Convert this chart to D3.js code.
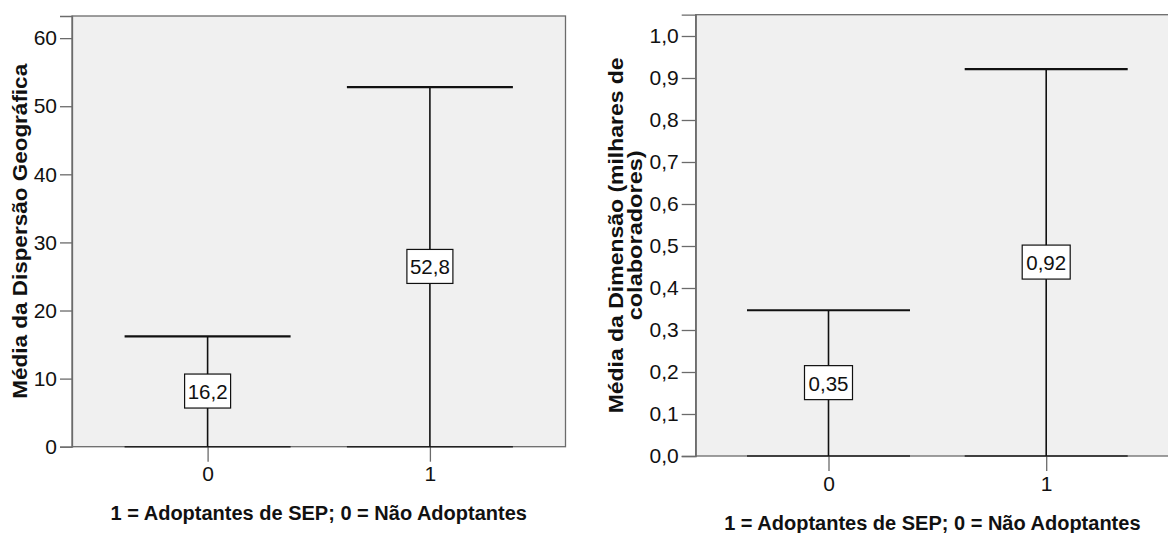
<!DOCTYPE html>
<html>
<head>
<meta charset="utf-8">
<style>
    body { margin: 0; background: #fff; }
    svg { display: block; font-family: Arial, 'Liberation Sans', sans-serif; }
</style>
</head>
<body>
<svg width="1168" height="533"></svg>

<script src="https://d3js.org/d3.v7.min.js"></script>
<script>
    // values
    const categories = ["0", "1"];
    const dispersaoMeans = [16.2, 52.8];
    const dimensaoMeans = [0.347, 0.921];
    const dispersaoTicks = [0, 10, 20, 30, 40, 50, 60];
    const dimensaoTicks = [0, 0.1, 0.2, 0.3, 0.4, 0.5, 0.6, 0.7, 0.8, 0.9, 1.0];
    const xTitle = "1 = Adoptantes de SEP; 0 = Não Adoptantes";

    let svg = d3.select("svg");
    let comma = s => s.replace(".", ",");

    function drawPanel(p) {
        let g = svg.append("g");
        let x = d3.scalePoint().domain(categories).range([p.left, p.right]).padding(0.61);
        let y = d3.scaleLinear().domain([0, p.ymax]).range([p.bottom, p.top]);

        // plot background + frame
        g.append("rect")
            .attr("x", p.left).attr("y", p.top)
            .attr("width", p.right - p.left).attr("height", p.bottom - p.top)
            .attr("fill", "#f0f0f0").attr("stroke", "#6b6b6b").attr("stroke-width", 1.3)

        // y axis
        let yAxis = g.append("g")
            .attr("transform", `translate(${p.left},0)`)
            .call(d3.axisLeft(y).tickValues(p.ticks).tickSize(p.tick).tickPadding(3).tickFormat(p.fmt))
        yAxis.select(".domain").attr("stroke", "#6b6b6b").attr("stroke-width", 1.3)
        yAxis.selectAll(".tick line").attr("stroke", "#6b6b6b").attr("stroke-width", 1.3)
        yAxis.selectAll("text").attr("font-size", "21px").attr("fill", "#111").attr("font-family", "Arial, 'Liberation Sans', sans-serif")

        // x axis
        let xAxis = g.append("g")
            .attr("transform", `translate(0,${p.bottom})`)
            .call(d3.axisBottom(x).tickSize(15).tickPadding(p.xpad))
        xAxis.select(".domain").remove()
        xAxis.selectAll(".tick line").attr("stroke", "#6b6b6b").attr("stroke-width", 1.3)
        xAxis.selectAll("text").attr("font-size", "21px").attr("fill", "#111").attr("font-family", "Arial, 'Liberation Sans', sans-serif")

        let capW = p.cap;
        let bars = g.append("g").selectAll("g")
            .data(categories.map((c, i) => ({ c: c, v: p.values[i] })))
            .join("g")

        // base at zero
        bars.append("line")
            .attr("x1", d => x(d.c) - capW / 2).attr("x2", d => x(d.c) + capW / 2)
            .attr("y1", y(0)).attr("y2", y(0))
            .attr("stroke", "#222").attr("stroke-width", 1.6)
        // stem
        bars.append("line")
            .attr("x1", d => x(d.c)).attr("x2", d => x(d.c))
            .attr("y1", y(0)).attr("y2", d => y(d.v))
            .attr("stroke", "#111").attr("stroke-width", 1.6)
        // top cap
        bars.append("line")
            .attr("x1", d => x(d.c) - capW / 2).attr("x2", d => x(d.c) + capW / 2)
            .attr("y1", d => y(d.v)).attr("y2", d => y(d.v))
            .attr("stroke", "#111").attr("stroke-width", 2.2)

        // value label boxes at mid height
        let lab = bars.append("g")
            .attr("transform", d => `translate(${x(d.c)},${y(d.v / 2)})`)
        lab.append("rect")
            .attr("x", -p.boxW / 2).attr("y", -17.5)
            .attr("width", p.boxW).attr("height", 34)
            .attr("fill", "#fff").attr("stroke", "#111").attr("stroke-width", 1.2)
        lab.append("text")
            .attr("text-anchor", "middle").attr("dy", "0.36em")
            .attr("font-size", "20.5px").attr("fill", "#111")
            .text(d => p.label(d.v))

        // x title
        g.append("text")
            .attr("x", (p.left + p.right) / 2 - p.xTitleShift).attr("y", p.xTitleY)
            .attr("text-anchor", "middle").attr("font-weight", "bold")
            .attr("font-size", "20px").attr("fill", "#111")
            .text(xTitle)

        // y title (one or more lines)
        let cy = (p.top + p.bottom) / 2;
        p.yTitle.forEach((t, i) => {
            g.append("text")
                .attr("transform", `translate(${p.yTitleX + i * 19.5},${cy}) rotate(-90)`)
                .attr("text-anchor", "middle").attr("font-weight", "bold")
                .attr("font-size", "20px").attr("fill", "#111")
                .attr("textLength", p.yTitleLen[i]).attr("lengthAdjust", "spacingAndGlyphs")
                .text(t)
        })
    }

    drawPanel({
        left: 72, right: 565.5, top: 16, bottom: 446.7, ymax: 63.25,
        ticks: dispersaoTicks, fmt: d3.format("d"), tick: 12, xpad: 4,
        values: dispersaoMeans, label: v => comma(d3.format(".1f")(v)),
        cap: 166, boxW: 46, xTitleY: 520, xTitleShift: 0,
        yTitle: ["Média da Dispersão Geográfica"], yTitleLen: [335], yTitleX: 27
    })

    drawPanel({
        left: 695.7, right: 1179, top: 14.7, bottom: 456, ymax: 1.0507,
        ticks: dimensaoTicks, fmt: d => comma(d3.format(".1f")(d)), tick: 14, xpad: 5,
        values: dimensaoMeans, label: v => comma(d3.format(".2f")(v)),
        cap: 163, boxW: 48, xTitleY: 530, xTitleShift: 5,
        yTitle: ["Média da Dimensão (milhares de", "colaboradores)"], yTitleLen: [356, 170], yTitleX: 622.5
    })
</script>
</body>
</html>
